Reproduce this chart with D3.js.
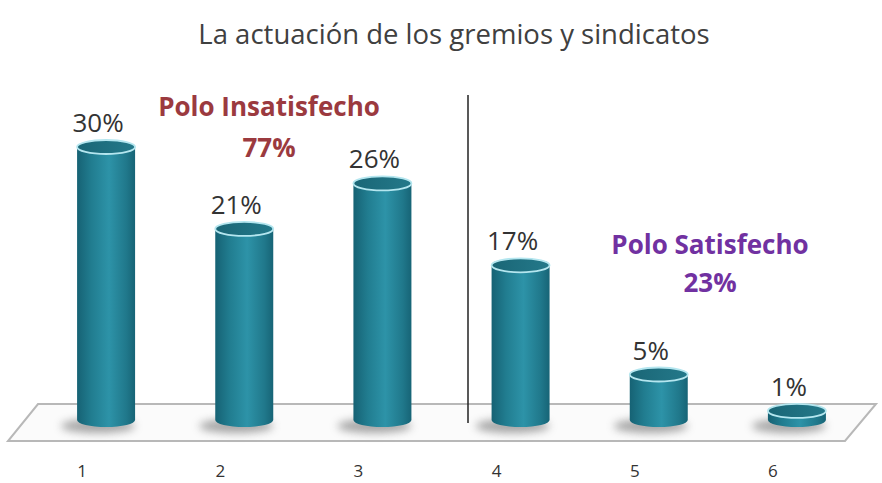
<!DOCTYPE html>
<html>
<head>
<meta charset="utf-8">
<script src="https://cdn.jsdelivr.net/npm/d3@7"></script>
<style>
  body { margin: 0; background: #fff; }
  svg text { font-family: "Open Sans", "Noto Sans", sans-serif; }
</style>
</head>
<body>
<div id="chart"></div>
<script>
// data
var categories = ["1", "2", "3", "4", "5", "6"];
var values = [30, 21, 26, 17, 5, 1];
var valueLabels = ["30%", "21%", "26%", "17%", "5%", "1%"];
var groupNames = ["Polo Insatisfecho", "Polo Satisfecho"];
var groupTotals = ["77%", "23%"];

var width = 882, height = 483;

var svg = d3.select("#chart").append("svg")
    .attr("width", width)
    .attr("height", height);

var defs = svg.append("defs");

var grad = defs.append("linearGradient")
    .attr("id", "cyl")
    .attr("x1", "0%").attr("x2", "100%")
    .attr("y1", "0%").attr("y2", "0%");
grad.append("stop").attr("offset", "0%").attr("stop-color", "#166274");
grad.append("stop").attr("offset", "25%").attr("stop-color", "#217d90");
grad.append("stop").attr("offset", "55%").attr("stop-color", "#2d93a8");
grad.append("stop").attr("offset", "85%").attr("stop-color", "#20788b");
grad.append("stop").attr("offset", "100%").attr("stop-color", "#176476");

var topGrad = defs.append("linearGradient")
    .attr("id", "cyltop")
    .attr("x1", "0%").attr("x2", "100%")
    .attr("y1", "0%").attr("y2", "0%");
topGrad.append("stop").attr("offset", "0%").attr("stop-color", "#1a6676");
topGrad.append("stop").attr("offset", "100%").attr("stop-color", "#24798a");

defs.append("filter")
    .attr("id", "blur")
    .attr("x", "-50%").attr("y", "-100%")
    .attr("width", "200%").attr("height", "300%")
    .append("feGaussianBlur")
    .attr("stdDeviation", 4);

// scales
var x = d3.scaleBand()
    .domain(categories)
    .range([37, 866]);

var y = d3.scaleLinear()
    .domain([0, 30])
    .range([420, 147]);

var barW = 58, ry = 7;

// title
svg.append("text")
    .attr("x", 454)
    .attr("y", 44)
    .attr("text-anchor", "middle")
    .style("font-size", "27.5px")
    .style("fill", "#404040")
    .text("La actuación de los gremios y sindicatos");

// floor
var floorBack = 404, floorFront = 441;
svg.append("path")
    .attr("d", "M38," + floorBack + "L876," + floorBack + "L845," + floorFront + "L8," + floorFront + "Z")
    .attr("fill", "#fbfbfb")
    .attr("stroke", "#b8b8b8")
    .attr("stroke-width", 2);

// divider
svg.append("line")
    .attr("x1", 468).attr("x2", 468)
    .attr("y1", 95).attr("y2", 423)
    .attr("stroke", "#222")
    .attr("stroke-width", 1.5);

var bars = svg.selectAll(".bar")
    .data(values)
    .enter()
    .append("g")
    .attr("class", "bar")
    .attr("transform", function(d, i) {
        return "translate(" + (x(categories[i]) + x.bandwidth() / 2) + ",0)";
    });

// shadow
bars.append("ellipse")
    .attr("cx", -8)
    .attr("cy", y(0) + 6)
    .attr("rx", barW / 2 + 8)
    .attr("ry", 7)
    .attr("fill", "#808080")
    .attr("opacity", 0.7)
    .attr("filter", "url(#blur)");

// body
bars.append("path")
    .attr("d", function(d) {
        var t = y(d), b = y(0), r = barW / 2;
        return "M" + (-r) + "," + t +
            "L" + (-r) + "," + b +
            "A" + r + "," + ry + " 0 0 0 " + r + "," + b +
            "L" + r + "," + t + "Z";
    })
    .attr("fill", "url(#cyl)");

// top
bars.append("ellipse")
    .attr("cx", 0)
    .attr("cy", function(d) { return y(d); })
    .attr("rx", barW / 2)
    .attr("ry", ry)
    .attr("fill", "url(#cyltop)")
    .attr("stroke", "#b4e6ef")
    .attr("stroke-width", 1.8);

// value labels
bars.append("text")
    .attr("x", -8)
    .attr("y", function(d) { return y(d) - 15; })
    .attr("text-anchor", "middle")
    .style("font-size", "26px")
    .style("fill", "#333")
    .text(function(d, i) { return valueLabels[i]; });

// category labels
svg.selectAll(".cat")
    .data(categories)
    .enter()
    .append("text")
    .attr("class", "cat")
    .attr("x", function(d) { return x(d) + x.bandwidth() / 2 - 24; })
    .attr("y", 477)
    .attr("text-anchor", "middle")
    .style("font-size", "17px")
    .style("fill", "#333")
    .text(function(d) { return d; });

// group annotations
var groups = [
    { x: 269, y1: 116, y2: 157, color: "#9b3a3f" },
    { x: 710, y1: 254, y2: 292, color: "#7131a1" }
];
groups.forEach(function(g, i) {
    svg.append("text")
        .attr("x", g.x).attr("y", g.y1)
        .attr("text-anchor", "middle")
        .style("font-size", "26px")
        .style("font-weight", "bold")
        .style("fill", g.color)
        .text(groupNames[i]);
    svg.append("text")
        .attr("x", g.x).attr("y", g.y2)
        .attr("text-anchor", "middle")
        .style("font-size", "26px")
        .style("font-weight", "bold")
        .style("fill", g.color)
        .text(groupTotals[i]);
});
</script>
</body>
</html>
